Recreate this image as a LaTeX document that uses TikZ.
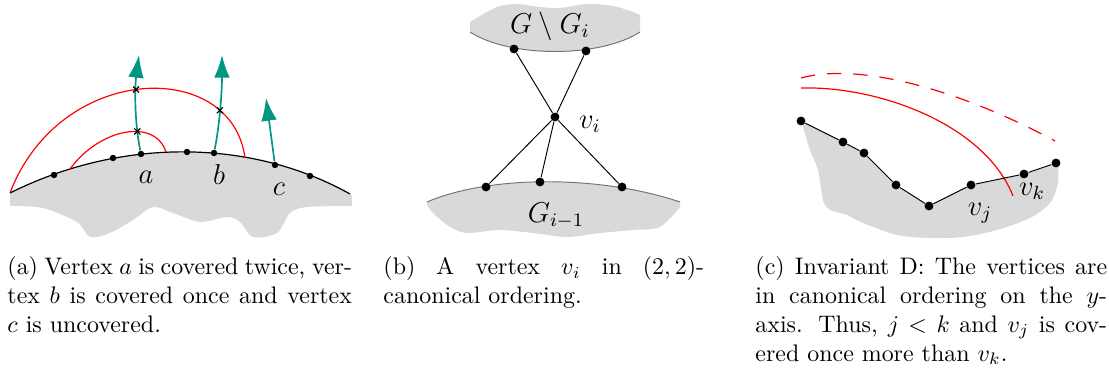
\documentclass[tikz,border=0pt]{standalone}
\usepackage{amsmath}
\usepackage{amssymb}
\usepackage{xcolor}
\usepackage{tikz}
\usetikzlibrary{arrows.meta, shapes.misc, intersections}

\definecolor{arrowteal}{RGB}{0,150,130}

\begin{document}
\begin{tikzpicture}[x=0.418pt, y=-0.418pt,
        dot/.style={circle, fill=black, inner sep=0pt, minimum size=3.7pt},
        smalldot/.style={circle, fill=black, inner sep=0pt, minimum size=2.7pt},
        cross/.style={cross out, draw=black, inner sep=0pt, minimum size=2pt, line width=0.5pt},
        rim/.style={draw=black!55, line width=0.4pt},
        cover/.style={red, line width=0.5pt},
        dir/.style={draw=arrowteal, line width=0.7pt, -{Latex[length=9.5pt,width=6.6pt]}},
        lbl/.style={font=\large},
        capt/.style={anchor=base west, text width=#1, align=justify, inner sep=0pt}]
        \useasboundingbox (0,0) rectangle (1109,372);

        % (a) outer face
        \fill[black!15] (10,193) .. controls (120,138) and (250,138) .. (352,195) -- (352,206)
            -- plot[smooth] coordinates {(352,206) (307,207) (290,213) (277,233) (253,237) (240,222) (227,217) (200,222) (173,213) (153,207) (133,220) (110,233) (90,237) (77,222) (43,208) (10,206)} -- cycle;
        \draw[line width=0.5pt] (10,193) .. controls (120,138) and (250,138) .. (350,194);
        \draw[cover, name path=outer] (10,193) .. controls (60,62) and (232,58) .. (245,158);
        \draw[cover, name path=inner] (70,169) .. controls (100,128) and (155,118) .. (166,152);

        \node (u1) [smalldot] at (54,175) {};
        \node (u2) [smalldot] at (113,158) {};
        \node (a) [smalldot] at (141,154) {};
        \node (u3) [smalldot] at (187,152) {};
        \node (b) [smalldot] at (214,153) {};
        \node (c) [smalldot] at (275,165) {};
        \node (u4) [smalldot] at (310,176) {};
        \node (la) [lbl] at (146,177) {$a$};
        \node (lb) [lbl] at (219,175) {$b$};
        \node (lc) [lbl] at (279,189) {$c$};

        \coordinate (ta) at (139,55);
        \coordinate (tb) at (222,55);
        \coordinate (tc) at (266,98);
        \draw[dir, name path=pa] (a) .. controls (134,120) and (135,85) .. (ta);
        \draw[dir, name path=pb] (b) .. controls (219,128) and (222,95) .. (tb);
        \draw[dir] (c) -- (tc);

        \path[name intersections={of=pa and outer, by=xa1}];
        \path[name intersections={of=pa and inner, by=xa2}];
        \path[name intersections={of=pb and outer, by=xb1}];
        \node (ca1) [cross] at (xa1) {};
        \node (ca2) [cross] at (xa2) {};
        \node (cb1) [cross] at (xb1) {};

        % (b) v_i between G_{i-1} and the rest
        \fill[black!15] (470,22) -- (470,32) .. controls (510,58) and (600,58) .. (640,32) -- (640,15)
            -- plot[smooth] coordinates {(640,15) (633,12) (613,6) (587,4) (560,8) (540,7) (517,4) (500,6) (487,12) (470,22)} -- cycle;
        \draw[rim] (470,32) .. controls (510,58) and (600,58) .. (640,32);
        \fill[black!15] (427,202) .. controls (490,175) and (600,175) .. (680,202) -- (680,207)
            -- plot[smooth] coordinates {(680,207) (660,227) (633,230) (600,233) (567,237) (533,233) (500,230) (467,233) (450,227) (433,213) (427,205)} -- cycle;
        \draw[rim] (427,202) .. controls (490,175) and (600,175) .. (680,202);

        \node (t1) [dot] at (514,49) {};
        \node (t2) [dot] at (586,51) {};
        \node (vi) [dot] at (555,117) {};
        \node (s1) [dot] at (486,187) {};
        \node (s2) [dot] at (540,182) {};
        \node (s3) [dot] at (622,187) {};
        \node (lvi) [lbl] at (590,124) {$v_i$};
        \node (lrest) [lbl] at (550,26) {$G \setminus G_i$};
        \node (lprev) [lbl] at (556,216) {$G_{i-1}$};

        \draw (t1) -- (vi);
        \draw (t2) -- (vi);
        \draw (vi) -- (s1);
        \draw (vi) -- (s2);
        \draw (vi) -- (s3);

        % (c) invariant D
        \fill[black!15] (801,121) -- (843,142) -- (864,153) -- (896,185) -- (929,206) -- (971,185) -- (1024,174) -- (1058,163)
            -- plot[smooth] coordinates {(1058,163) (1058,183) (1050,203) (1030,218) (997,230) (963,237) (930,238) (897,235) (863,223) (847,215) (830,210) (823,200) (818,170) (810,150) (802,123)} -- cycle;
        \draw[cover] (801,88) .. controls (880,86) and (985,125) .. (1013,196);
        \draw[cover, dash pattern=on 6pt off 5pt] (801,78) .. controls (860,62) and (960,90) .. (1055,141);

        \node (w1) [dot] at (801,121) {};
        \node (w2) [dot] at (843,142) {};
        \node (w3) [dot] at (864,153) {};
        \node (w4) [dot] at (896,185) {};
        \node (w5) [dot] at (929,206) {};
        \node (vj) [dot] at (971,185) {};
        \node (vk) [dot] at (1024,174) {};
        \node (w8) [dot] at (1056,163) {};
        \node (lvj) [lbl] at (980,213) {$v_j$};
        \node (lvk) [lbl] at (1032,191) {$v_k$};

        \draw (w1) -- (w2) -- (w3) -- (w4) -- (w5) -- (vj) -- (vk) -- (w8);

        % Captions
        \node (capa) [capt=144pt] at (7,275) {(a) Vertex $a$ is covered twice, ver-\linebreak tex $b$ is covered once and vertex\linebreak $c$ is uncovered.};
        \node (capb) [capt=134pt] at (383,275) {(b) A vertex $v_i$ in $(2,2)$-\linebreak canonical ordering.};
        \node (capc) [capt=147pt] at (755,275) {(c) Invariant D: The vertices are\linebreak in canonical ordering on the $y$-\linebreak axis. Thus, $j<k$ and $v_j$ is cov-\linebreak ered once more than $v_k$.};
\end{tikzpicture}
\end{document}
